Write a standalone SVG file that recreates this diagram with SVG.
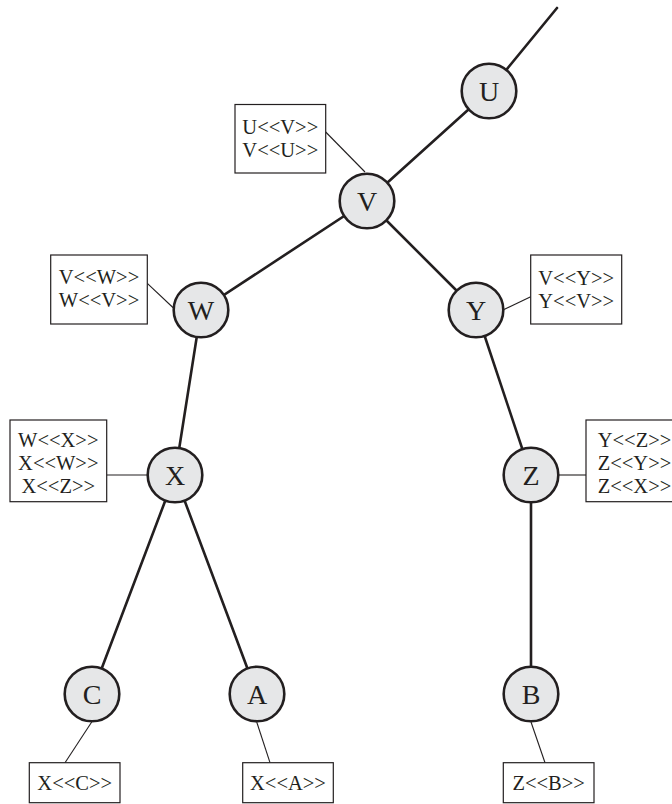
<svg xmlns="http://www.w3.org/2000/svg" width="672" height="804" viewBox="0 0 672 804">
<style>
.edge{stroke:#231f20;stroke-width:2.6;fill:none;stroke-linecap:round}
.lead{stroke:#231f20;stroke-width:1.1;fill:none}
.node circle{fill:#e6e7e8;stroke:#231f20;stroke-width:2.6}
.node text{font-family:"Liberation Serif","Times New Roman",serif;font-size:28px;fill:#231f20;text-anchor:middle}
.box rect{fill:#fff;stroke:#231f20;stroke-width:1.2}
.box text{font-family:"Liberation Serif","Times New Roman",serif;font-size:20.5px;fill:#231f20;text-anchor:middle}
</style>
<rect width="672" height="804" fill="#fff"/>
<g id="connectors">
<line class="edge" x1="557" y1="8" x2="489" y2="91"/>
<line class="edge" x1="489" y1="91" x2="367" y2="201"/>
<line class="edge" x1="367" y1="201" x2="201" y2="310"/>
<line class="edge" x1="367" y1="201" x2="476" y2="310"/>
<line class="edge" x1="201" y1="310" x2="175" y2="475"/>
<line class="edge" x1="476" y1="310" x2="531" y2="475"/>
<line class="edge" x1="175" y1="475" x2="92" y2="694"/>
<line class="edge" x1="175" y1="475" x2="257" y2="694"/>
<line class="edge" x1="531" y1="475" x2="531" y2="694"/>
<line class="lead" x1="325.7" y1="132" x2="365" y2="172"/>
<line class="lead" x1="147.3" y1="283.3" x2="174" y2="308.5"/>
<line class="lead" x1="504" y1="309.5" x2="530.7" y2="296.7"/>
<line class="lead" x1="106.7" y1="475" x2="148" y2="475"/>
<line class="lead" x1="558" y1="475" x2="586" y2="475"/>
<line class="lead" x1="91.7" y1="722" x2="65" y2="762.7"/>
<line class="lead" x1="256.7" y1="722" x2="270" y2="762.7"/>
<line class="lead" x1="531" y1="722" x2="545" y2="762.7"/>
</g>
<g id="node-U" class="node"><circle cx="489" cy="91" r="27.3"/><text x="489" y="101">U</text></g>
<g id="node-V" class="node"><circle cx="367" cy="201" r="27.3"/><text x="367" y="211">V</text></g>
<g id="node-W" class="node"><circle cx="201" cy="310" r="27.3"/><text x="201" y="320">W</text></g>
<g id="node-Y" class="node"><circle cx="476" cy="310" r="27.3"/><text x="476" y="320">Y</text></g>
<g id="node-X" class="node"><circle cx="175" cy="475" r="27.3"/><text x="175" y="485">X</text></g>
<g id="node-Z" class="node"><circle cx="531" cy="475" r="27.3"/><text x="531" y="485">Z</text></g>
<g id="node-C" class="node"><circle cx="92" cy="694" r="27.3"/><text x="92" y="704">C</text></g>
<g id="node-A" class="node"><circle cx="257" cy="694" r="27.3"/><text x="257" y="704">A</text></g>
<g id="node-B" class="node"><circle cx="531" cy="694" r="27.3"/><text x="531" y="704">B</text></g>
<g id="box-UV" class="box"><rect x="235" y="104.5" width="90.7" height="68.5"/><text x="280.3" y="134">U&lt;&lt;V&gt;&gt;</text><text x="280.3" y="157.3">V&lt;&lt;U&gt;&gt;</text></g>
<g id="box-VW" class="box"><rect x="50.7" y="255" width="96.6" height="69"/><text x="99" y="283.5">V&lt;&lt;W&gt;&gt;</text><text x="99" y="306.8">W&lt;&lt;V&gt;&gt;</text></g>
<g id="box-VY" class="box"><rect x="530.7" y="255" width="91" height="69"/><text x="576.2" y="284.5">V&lt;&lt;Y&gt;&gt;</text><text x="576.2" y="307.8">Y&lt;&lt;V&gt;&gt;</text></g>
<g id="box-X" class="box"><rect x="10" y="420" width="96.7" height="81.7"/><text x="58.3" y="446.7">W&lt;&lt;X&gt;&gt;</text><text x="58.3" y="470">X&lt;&lt;W&gt;&gt;</text><text x="58.3" y="493.3">X&lt;&lt;Z&gt;&gt;</text></g>
<g id="box-Z" class="box"><rect x="586" y="420" width="97" height="81.7"/><text x="634.5" y="446.7">Y&lt;&lt;Z&gt;&gt;</text><text x="634.5" y="470">Z&lt;&lt;Y&gt;&gt;</text><text x="634.5" y="493.3">Z&lt;&lt;X&gt;&gt;</text></g>
<g id="box-C" class="box"><rect x="29.3" y="762.7" width="90.7" height="40"/><text x="74.7" y="790">X&lt;&lt;C&gt;&gt;</text></g>
<g id="box-A" class="box"><rect x="242.7" y="762.7" width="90.6" height="40"/><text x="288" y="790">X&lt;&lt;A&gt;&gt;</text></g>
<g id="box-B" class="box"><rect x="503.3" y="762.7" width="90.7" height="40"/><text x="548.7" y="790">Z&lt;&lt;B&gt;&gt;</text></g>
</svg>
